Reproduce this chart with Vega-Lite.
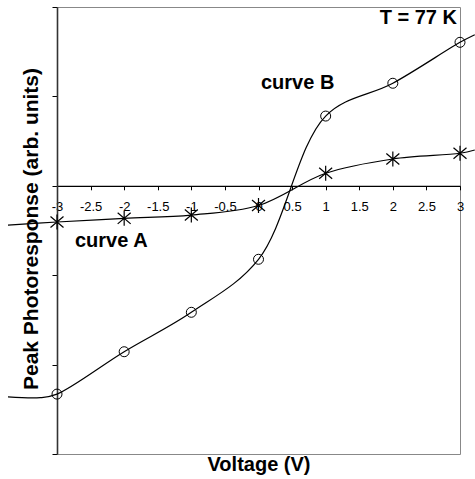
{
  "$schema": "https://vega.github.io/schema/vega-lite/v6.json",
  "width": 403,
  "height": 447,
  "autosize": {"type": "none"},
  "padding": {"left": 57, "top": 7, "right": 15, "bottom": 25},
  "background": "white",
  "config": {
    "font": "Liberation Sans",
    "view": {"stroke": "#888888", "strokeWidth": 1},
    "axis": {"labelOverlap": false, "labelFlush": false, "grid": false}
  },
  "datasets": {
    "curves": [
      {"curve": "A", "V": -3.73, "R": -0.44},
      {"curve": "A", "V": -3, "R": -0.405},
      {"curve": "A", "V": -2, "R": -0.364},
      {"curve": "A", "V": -1, "R": -0.327},
      {"curve": "A", "V": 0, "R": -0.22},
      {"curve": "A", "V": 1, "R": 0.14},
      {"curve": "A", "V": 2, "R": 0.3},
      {"curve": "A", "V": 3, "R": 0.364},
      {"curve": "A", "V": 3.22, "R": 0.4},
      {"curve": "B", "V": -3.73, "R": -2.36},
      {"curve": "B", "V": -3.25, "R": -2.37},
      {"curve": "B", "V": -3, "R": -2.33},
      {"curve": "B", "V": -2, "R": -1.856},
      {"curve": "B", "V": -1, "R": -1.415},
      {"curve": "B", "V": 0, "R": -0.822},
      {"curve": "B", "V": 1, "R": 0.78},
      {"curve": "B", "V": 2, "R": 1.147},
      {"curve": "B", "V": 3, "R": 1.605},
      {"curve": "B", "V": 3.22, "R": 1.69}
    ],
    "notesRight": [
      {"label": "T = 77 K", "V": 2.955, "R": 1.806}
    ],
    "notesLeft": [
      {"label": "curve B", "V": 0.037, "R": 1.083},
      {"label": "curve A", "V": -2.732, "R": -0.685}
    ]
  },
  "encoding": {
    "x": {
      "field": "V", "type": "quantitative",
      "scale": {"domain": [-3, 3], "nice": false, "zero": false},
      "axis": {
        "orient": "bottom",
        "offset": -268.2,
        "values": [-3, -2.5, -2, -1.5, -1, -0.5, 0, 0.5, 1, 1.5, 2, 2.5, 3],
        "labelExpr": "replace(format(datum.value, '~g'), '\u2212', '-')",
        "grid": false,
        "domainColor": "black",
        "domainWidth": 1.2,
        "tickColor": "black",
        "tickSize": 4,
        "labelFont": "Liberation Sans",
        "labelFontSize": 13,
        "labelColor": "black",
        "labelPadding": 11,
        "labelOverlap": false,
        "labelFlush": false,
        "title": "Voltage (V)",
        "titleFont": "Liberation Sans",
        "titleFontSize": 20,
        "titleFontWeight": "bold",
        "titleColor": "black",
        "titleBaseline": "alphabetic",
        "titleY": 285
      }
    },
    "y": {
      "field": "R", "type": "quantitative",
      "scale": {"domain": [-3, 2], "nice": false, "zero": false},
      "axis": {
        "orient": "left",
        "values": [-3, -2, -1, 0, 1, 2],
        "labels": false,
        "grid": false,
        "domainColor": "#333333",
        "domainWidth": 1.6,
        "tickColor": "black",
        "tickSize": 5,
        "title": "Peak Photoresponse (arb. units)",
        "titleFont": "Liberation Sans",
        "titleFontSize": 21,
        "titleFontWeight": "bold",
        "titleColor": "black",
        "titleBaseline": "alphabetic",
        "titleX": -20,
        "titleY": 221.5
      }
    }
  },
  "layer": [
    {
      "data": {"name": "curves"},
      "mark": {"type": "line", "interpolate": "catmull-rom", "color": "black", "strokeWidth": 1.2, "clip": false},
      "encoding": {
        "detail": {"field": "curve", "type": "nominal"}
      }
    },
    {
      "data": {"name": "curves"},
      "transform": [
        {"filter": {"field": "curve", "equal": "B"}},
        {"filter": {"field": "V", "range": [-3, 3]}}
      ],
      "mark": {"type": "point", "shape": "circle", "filled": false, "color": "black", "size": 100, "strokeWidth": 1, "opacity": 1, "clip": false},
      "encoding": {}
    },
    {
      "data": {"name": "curves"},
      "transform": [
        {"filter": {"field": "curve", "equal": "A"}},
        {"filter": {"field": "V", "range": [-3, 3]}}
      ],
      "mark": {"type": "point", "shape": "M-1,-0.85L1,0.85M-1,0.85L1,-0.85M0,-1.15L0,1.15", "filled": false, "color": "black", "size": 169, "strokeWidth": 1.2, "opacity": 1, "clip": false},
      "encoding": {}
    },
    {
      "data": {"name": "notesRight"},
      "mark": {"type": "text", "font": "Liberation Sans", "fontSize": 20, "fontWeight": "bold", "color": "black", "baseline": "alphabetic", "align": "right", "clip": false},
      "encoding": {
        "text": {"field": "label"}
      }
    },
    {
      "data": {"name": "notesLeft"},
      "mark": {"type": "text", "font": "Liberation Sans", "fontSize": 20, "fontWeight": "bold", "color": "black", "baseline": "alphabetic", "align": "left", "clip": false},
      "encoding": {
        "text": {"field": "label"}
      }
    }
  ]
}
